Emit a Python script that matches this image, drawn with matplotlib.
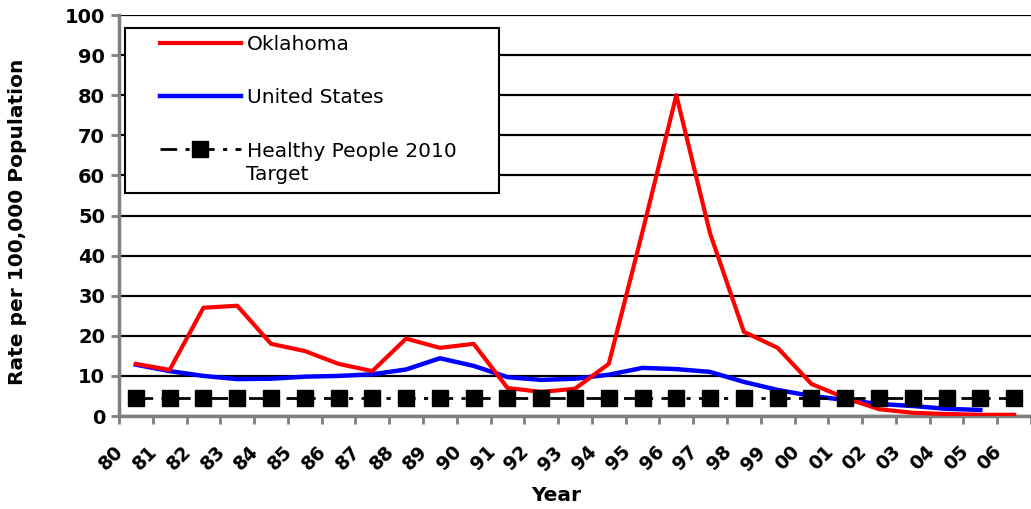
import matplotlib
matplotlib.use("Agg")
import matplotlib.pyplot as plt
from matplotlib.patches import Rectangle
import numpy as np

# Datos (tasa por 100,000)
years = ["80", "81", "82", "83", "84", "85", "86", "87", "88", "89", "90", "91", "92",
         "93", "94", "95", "96", "97", "98", "99", "00", "01", "02", "03", "04", "05", "06"]
oklahoma = [13, 11.5, 27, 27.5, 18, 16.2, 13, 11.2, 19.3, 17, 18, 7, 6, 6.8, 13,
            46, 80, 45.5, 21, 17, 8, 4.5, 1.7, 0.8, 0.5, 0.3, 0.3]
united_states = [12.8, 11.2, 10, 9.2, 9.3, 9.8, 10, 10.4, 11.6, 14.4, 12.5, 9.7, 9,
                 9.3, 10.3, 12, 11.7, 11, 8.5, 6.5, 5, 4, 3, 2.5, 1.8, 1.5]
target = [4.5] * len(years)

fig = plt.figure(figsize=(10.31, 5.09), dpi=100)
ax = fig.add_axes([0.1154, 0.1827, 0.8846, 0.7878])

x = np.arange(len(years)) + 0.5

ax.plot(x[:len(oklahoma)], oklahoma, color="#ff0000", linewidth=3.0, label="Oklahoma", zorder=4)
ax.plot(x[:len(united_states)], united_states, color="#0000ff", linewidth=3.2, label="United States", zorder=3)
ax.plot(x, target, color="black", linewidth=2.0, dashes=(6, 3, 1.5, 3), marker="s",
        markersize=11, label="Healthy People 2010", zorder=5)

ax.set_xlim(0, len(years))
ax.set_ylim(0, 100)
ax.set_yticks(range(0, 101, 10))
ax.yaxis.grid(True, color="black", linewidth=1.6)
ax.set_axisbelow(True)

# marcas en los bordes de categoria, etiquetas desplazadas
ax.set_xticks(np.arange(len(years) + 1), minor=True)
ax.set_xticks(np.arange(len(years)) + 0.25)
ax.set_xticklabels(years, rotation=45, ha="right", fontsize=13.5, fontweight="bold")
ax.tick_params(axis="x", which="major", length=0, pad=19)
ax.tick_params(axis="x", which="minor", length=6, width=2, color="#7f7f7f")
ax.tick_params(axis="y", length=6, width=2, color="#7f7f7f", labelsize=14, pad=4)
for lab in ax.get_yticklabels():
    lab.set_fontweight("bold")

for s in ["top", "right"]:
    ax.spines[s].set_visible(False)
for s in ["left", "bottom"]:
    ax.spines[s].set_color("#7f7f7f")
    ax.spines[s].set_linewidth(2.5)

ax.set_xlabel("Year", fontsize=14.5, fontweight="bold")
ax.xaxis.set_label_coords(0.479, -0.175)
ax.set_ylabel("Rate per 100,000 Population", fontsize=14.5, fontweight="bold")
ax.yaxis.set_label_coords(-0.101, 0.484)

# leyenda con marco propio
ax.add_patch(Rectangle((0.0066, 0.556), 0.41, 0.4116, transform=ax.transAxes,
                       facecolor="white", edgecolor="black", linewidth=1.5, zorder=6))
leg = ax.legend(loc="upper left", bbox_to_anchor=(0.045, 0.95), fontsize=14.5,
                frameon=False, handlelength=4.0, handletextpad=0.3,
                labelspacing=1.7, borderpad=0, borderaxespad=0)
leg.set_zorder(7)
ax.text(0.139, 0.6035, "Target", transform=ax.transAxes, fontsize=14.5,
        va="center", ha="left", zorder=8)

fig.savefig("out.png", dpi=100)
